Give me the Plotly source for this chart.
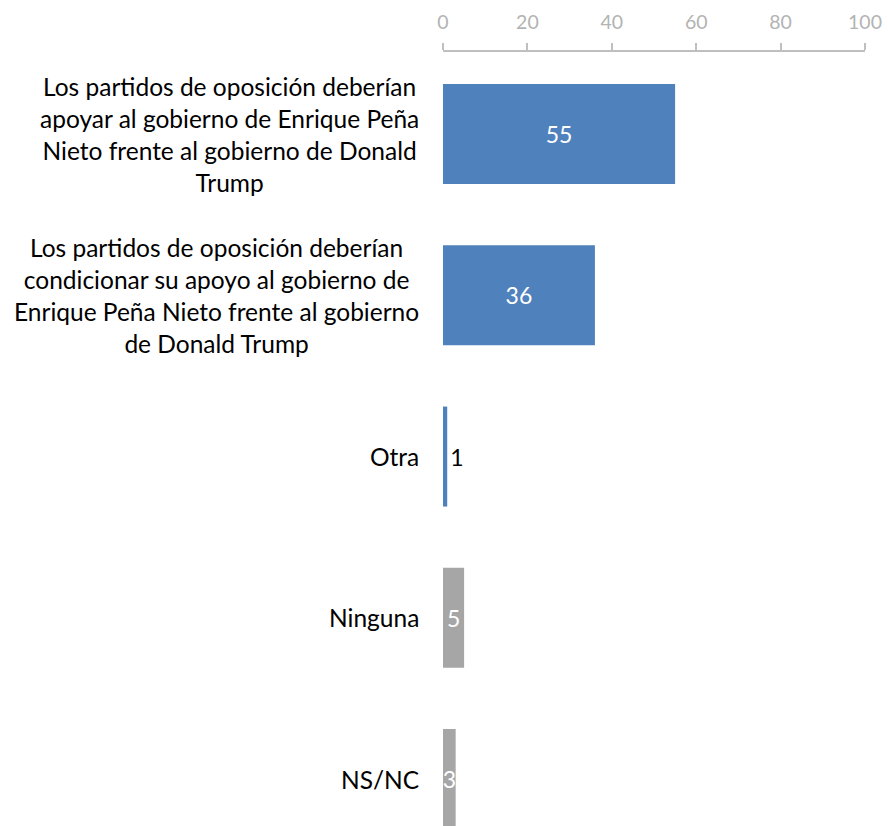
import plotly.graph_objects as go

categories = [
    "Los partidos de oposición deberían<br>apoyar al gobierno de Enrique Peña<br>Nieto frente al gobierno de Donald<br>Trump",
    "Los partidos de oposición deberían<br>condicionar su apoyo al gobierno de<br>Enrique Peña Nieto frente al gobierno<br>de Donald Trump",
    "Otra",
    "Ninguna",
    "NS/NC",
]
values = [55, 36, 1, 5, 3]
bar_colors = ["#4F81BD", "#4F81BD", "#4F81BD", "#A6A6A6", "#A6A6A6"]
text_positions = ["inside", "inside", "outside", "inside", "inside"]
text_colors = ["white", "white", "black", "white", "white"]
tick_values = [0, 20, 40, 60, 80, 100]

FONT = "Lato"

fig = go.Figure()
fig.add_trace(go.Bar(
    x=values,
    y=categories,
    orientation="h",
    marker=dict(color=bar_colors, line=dict(width=0)),
    width=0.62,
    text=[str(v) for v in values],
    textposition=text_positions,
    insidetextanchor="middle",
    textfont=dict(family=FONT, size=23, color=text_colors),
    cliponaxis=False,
    hoverinfo="skip",
))

for cat in categories:
    fig.add_annotation(
        x=0, y=cat, xref="x", yref="y",
        text=cat, showarrow=False,
        xanchor="right", yanchor="middle", align="center",
        xshift=-22,
        font=dict(family=FONT, size=24.5, color="black"),
    )

fig.update_layout(
    width=888, height=826,
    margin=dict(l=443, r=23, t=52, b=0),
    paper_bgcolor="white", plot_bgcolor="white",
    showlegend=False,
    uniformtext=dict(minsize=23, mode="show"),
    xaxis=dict(
        side="top", range=[0, 100], tickvals=tick_values,
        showgrid=False, zeroline=False,
        showline=True, linecolor="#BFBFBF", linewidth=1.5,
        ticks="outside", ticklen=7, tickcolor="#BFBFBF", tickwidth=1.5,
        tickfont=dict(family=FONT, size=19.5, color="#B3B3B3"),
        ticklabelstandoff=6,
    ),
    yaxis=dict(
        type="category", categoryorder="array", categoryarray=categories,
        range=[4.291, -0.5085],
        showticklabels=False, showgrid=False, zeroline=False, showline=False,
        ticks="",
    ),
)

fig.write_html("out.html", config={"displayModeBar": False},
               post_script="document.body.style.margin='0';")
